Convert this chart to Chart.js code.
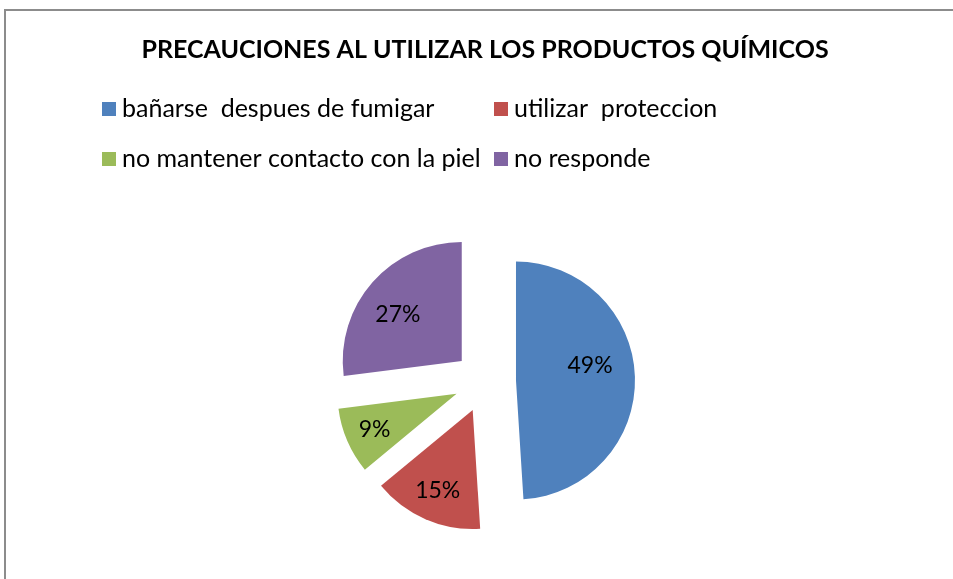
<!DOCTYPE html>
<html>
<head>
<meta charset="utf-8">
<script src="https://cdn.jsdelivr.net/npm/chart.js@4"></script>
<style>
  html, body { margin: 0; padding: 0; background: #fff; }
  #wrap { position: relative; width: 953px; height: 579px; overflow: hidden; }
  #frame { position: absolute; left: 4px; top: 9px; right: -4px; bottom: -4px;
           border-left: 2px solid #8c8c8c; border-top: 2px solid #8c8c8c; }
  #chart { position: absolute; left: 0; top: 0; }
</style>
</head>
<body>
<div id="wrap">
  <div id="frame"></div>
  <canvas id="chart" width="953" height="579"></canvas>
</div>
<script>
const categories = [
  "bañarse  despues de fumigar",
  "utilizar  proteccion",
  "no mantener contacto con la piel",
  "no responde"
];
const percentages = [49, 15, 9, 27];
const sliceColors = ["#4F81BD", "#C0504D", "#9BBB59", "#8064A2"];

const FONT = "Lato, 'Open Sans', sans-serif";

// pull every slice out from the centre (Chart.js' own offset also grows big slices)
const explode = {
  id: "explode",
  afterDatasetUpdate(chart, args, opts) {
    chart.getDatasetMeta(args.index).data.forEach((arc) => {
      const mid = (arc.startAngle + arc.endAngle) / 2;
      arc.x += Math.cos(mid) * opts.distance;
      arc.y += Math.sin(mid) * opts.distance;
    });
  }
};

// percent labels inside each slice
const sliceLabels = {
  id: "sliceLabels",
  afterDatasetsDraw(chart, args, opts) {
    const ctx = chart.ctx;
    const meta = chart.getDatasetMeta(0);
    ctx.save();
    ctx.font = opts.font;
    ctx.fillStyle = "#000";
    ctx.textAlign = "center";
    ctx.textBaseline = "middle";
    meta.data.forEach((arc, i) => {
      const ang = (arc.startAngle + arc.endAngle) / 2 + opts.turns[i];
      const dist = arc.outerRadius * opts.ratios[i];
      const x = arc.x + Math.cos(ang) * dist;
      const y = arc.y + Math.sin(ang) * dist;
      ctx.fillText(chart.data.datasets[0].data[i] + "%", x, y);
    });
    ctx.restore();
  }
};

// two-column legend like the original spreadsheet chart
const gridLegend = {
  id: "gridLegend",
  afterDraw(chart, args, opts) {
    const ctx = chart.ctx;
    ctx.save();
    ctx.font = opts.font;
    ctx.textBaseline = "middle";
    ctx.textAlign = "left";
    chart.data.labels.forEach((label, i) => {
      const col = i % 2;
      const row = Math.floor(i / 2);
      const x = opts.colX[col];
      const y = opts.rowY[row];
      ctx.fillStyle = chart.data.datasets[0].backgroundColor[i];
      ctx.fillRect(x, y - 7, 14, 14);
      ctx.fillStyle = "#000";
      ctx.fillText(label, x + 20, y);
    });
    ctx.restore();
  }
};

new Chart(document.getElementById("chart"), {
  type: "pie",
  data: {
    labels: categories,
    datasets: [{
      data: percentages,
      backgroundColor: sliceColors,
      borderWidth: 0
    }]
  },
  options: {
    responsive: false,
    animation: false,
    events: [],
    radius: 119,
    layout: { padding: { left: 17 } },
    plugins: {
      legend: { display: false },
      tooltip: { enabled: false },
      title: {
        display: true,
        text: "PRECAUCIONES AL UTILIZAR LOS PRODUCTOS QUÍMICOS",
        color: "#000",
        font: { family: FONT, size: 25, weight: "bold" },
        padding: { top: 35, bottom: 119 }
      },
      explode: { distance: 31 },
      sliceLabels: {
        font: "23px " + FONT,
        ratios: [0.635, 0.74, 0.75, 0.665],
        turns: [-0.17, 0, 0, -0.09]
      },
      gridLegend: { font: "25px " + FONT, colX: [102, 494], rowY: [109, 159] }
    }
  },
  plugins: [explode, sliceLabels, gridLegend]
});
</script>
</body>
</html>
